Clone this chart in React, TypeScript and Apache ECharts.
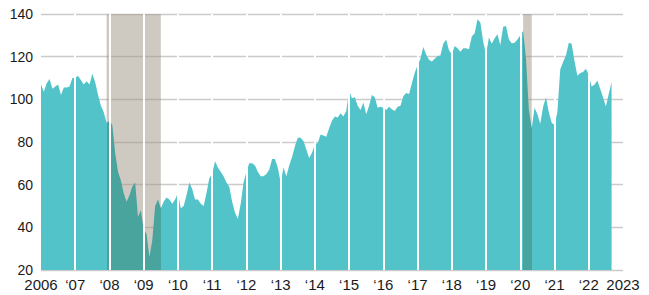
import React, { useEffect, useRef } from "react";
import * as echarts from "echarts";

// x-axis tick labels, one per January from 2006 to 2023
const yearLabels = [
  "2006", "‘07", "‘08", "‘09", "‘10", "‘11", "‘12", "‘13", "‘14",
  "‘15", "‘16", "‘17", "‘18", "‘19", "‘20", "‘21", "‘22", "2023",
];
const yMin = 20;
const yMax = 140;
const yStep = 20;

// monthly values (Jan..Dec)
const values2006 = [107, 103.5, 107.5, 109.5, 105, 106, 107, 102, 105.5, 105.5, 106, 110];
const values2007 = [110, 111, 109, 107, 108.5, 107, 112, 108, 102, 97, 94, 89];
const values2008 = [90, 88, 75, 66, 62, 56, 52, 55, 59, 61, 45, 48];
const values2009 = [39, 37, 26, 34, 50, 53, 49, 52, 54, 53, 51, 53];
const values2010 = [56, 49, 50, 55, 61, 58, 53, 53, 51, 50, 56, 63];
const values2011 = [65, 71, 68, 66, 64, 61, 59, 52, 47, 44, 51, 61];
const values2012 = [66, 70, 70, 69, 66, 64, 64, 65, 67, 72, 72, 68];
const values2013 = [61, 68, 64, 69, 73, 78, 82, 82, 80.5, 76.5, 72.5, 75];
const values2014 = [79, 79.5, 83.5, 83, 82.5, 86.5, 90, 92, 91.5, 93.5, 92, 94.5];
const values2015 = [104, 100.5, 101, 97, 95, 98.5, 93, 97, 102, 101, 96, 96.5];
const values2016 = [96, 95, 96.5, 95.3, 94.5, 96.5, 97, 101.5, 103, 102.5, 107.5, 112.5];
const values2017 = [116, 119, 124.5, 121, 118.5, 117.7, 119, 120.3, 120.5, 126, 128, 123];
const values2018 = [121, 125, 124, 122.3, 124, 124, 123.5, 129.5, 131, 137.5, 136, 127];
const values2019 = [121, 129, 126, 128.6, 130.5, 125.5, 134, 134.4, 128, 126.3, 126.5, 128];
const values2020 = [130, 132, 119, 95, 86.5, 96, 93, 88.5, 96.5, 101, 94, 89];
const values2021 = [88, 94, 114, 117.5, 120.5, 126.5, 126, 118, 111, 112.3, 112.8, 114.3];
const values2022 = [111.4, 106, 106.8, 108.8, 105, 101, 96.6, 102.5, 108];

const monthlyValues = [
  ...values2006, ...values2007, ...values2008, ...values2009, ...values2010,
  ...values2011, ...values2012, ...values2013, ...values2014, ...values2015,
  ...values2016, ...values2017, ...values2018, ...values2019, ...values2020,
  ...values2021, ...values2022,
];

// recessions, in months since Jan 2006: Dec 2007 – Jun 2009, Feb 2020 – Apr 2020
const recessions: [number, number][] = [
  [23, 42],
  [169, 172],
];

const TEAL = "#52c3c9";
const TEAL_DARK = "#49a49e";
const FONT = "'Liberation Sans', Arial, Helvetica, sans-serif";

export default function App() {
  const ref = useRef<HTMLDivElement>(null);

  useEffect(() => {
    if (!ref.current) return;
    const chart = echarts.init(ref.current, undefined, { renderer: "svg" });
    const lastMonth = (yearLabels.length - 1) * 12;
    const yearStarts = yearLabels.slice(1, -1).map((_, i) => (i + 1) * 12);

    const pieces: any[] = [];
    let prev = -Infinity;
    recessions.forEach(([a, b]) => {
      pieces.push({ gt: prev === -Infinity ? undefined : prev, lt: a, color: TEAL });
      pieces.push({ gte: a, lte: b, color: TEAL_DARK });
      prev = b;
    });
    pieces.push({ gt: prev, color: TEAL });
    pieces.forEach((p) => {
      if (p.gt === undefined) delete p.gt;
    });

    chart.setOption({
      animation: false,
      grid: { left: 41, right: 26, top: 14, bottom: 25, containLabel: false },
      xAxis: {
        type: "value",
        min: 0,
        max: lastMonth,
        interval: 12,
        axisLine: { show: false },
        axisTick: { show: false },
        splitLine: { show: false },
        axisLabel: {
          color: "#1a1a1a",
          fontSize: 15,
          fontFamily: FONT,
          margin: 7,
          showMinLabel: true,
          showMaxLabel: true,
          formatter: (v: number) => yearLabels[Math.round(v / 12)] ?? "",
        },
      },
      yAxis: {
        type: "value",
        min: yMin,
        max: yMax,
        interval: yStep,
        axisLine: { show: false },
        axisTick: { show: false },
        axisLabel: {
          color: "#1a1a1a",
          fontSize: 14,
          fontFamily: FONT,
          margin: 8,
        },
        splitLine: { lineStyle: { color: "#cbcbcb", width: 1.3 } },
      },
      visualMap: {
        type: "piecewise",
        show: false,
        dimension: 0,
        seriesIndex: 1,
        pieces,
      },
      series: [
        {
          type: "line",
          z: 1,
          data: [[0, yMin]],
          symbol: "none",
          lineStyle: { opacity: 0 },
          silent: true,
          markArea: {
            silent: true,
            itemStyle: { color: "rgba(158,148,132,0.5)" },
            data: recessions.map(([a, b]) => [{ xAxis: a }, { xAxis: b }]),
          },
        },
        {
          type: "line",
          z: 2,
          data: monthlyValues.map((v, i) => [i, v]),
          showSymbol: false,
          symbol: "none",
          lineStyle: { width: 0, opacity: 0 },
          areaStyle: { opacity: 1 },
          silent: true,
        },
        {
          type: "line",
          z: 5,
          data: [[0, yMin]],
          symbol: "none",
          lineStyle: { opacity: 0 },
          silent: true,
          markLine: {
            silent: true,
            symbol: ["none", "none"],
            label: { show: false },
            lineStyle: { color: "#ffffff", width: 2, type: "solid" },
            data: yearStarts.map((x) => ({ xAxis: x })),
          },
        },
      ],
    });
    return () => chart.dispose();
  }, []);

  return (
    <div
      ref={ref}
      style={{ position: "fixed", left: 0, top: 0, width: 649, height: 295, background: "#fff" }}
    />
  );
}
